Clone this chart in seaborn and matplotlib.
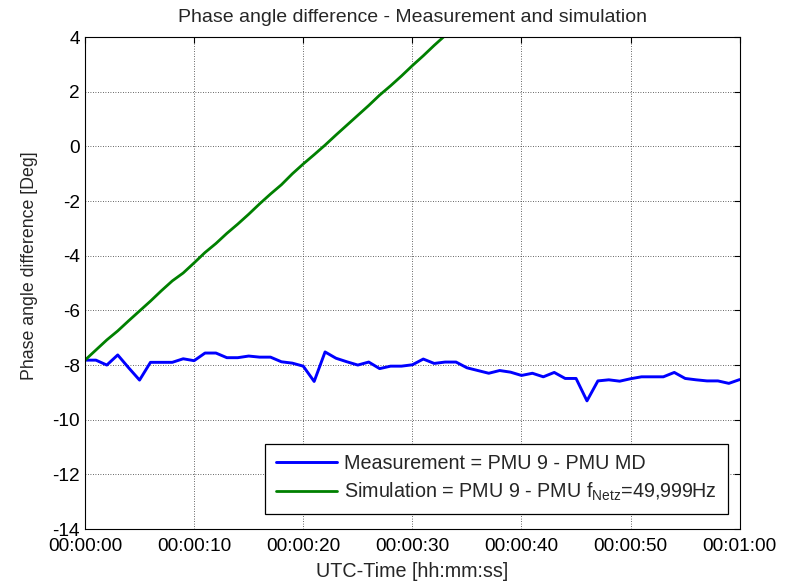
import numpy as np
import pandas as pd
import matplotlib
matplotlib.use("Agg")
import matplotlib.pyplot as plt
import seaborn as sns

# ---- data ----
t_meas = list(range(0, 61))
meas = [-7.82, -7.82, -8.00, -7.63, -8.10, -8.55, -7.90, -7.90, -7.90, -7.77,
        -7.84, -7.56, -7.56, -7.73, -7.73, -7.67, -7.71, -7.71, -7.88, -7.93,
        -8.04, -8.60, -7.52, -7.75, -7.88, -8.00, -7.89, -8.13, -8.04, -8.04,
        -7.99, -7.78, -7.94, -7.89, -7.89, -8.10, -8.20, -8.30, -8.20, -8.26,
        -8.38, -8.30, -8.43, -8.27, -8.49, -8.49, -9.31, -8.58, -8.54, -8.59,
        -8.50, -8.43, -8.43, -8.43, -8.27, -8.49, -8.54, -8.58, -8.58, -8.67,
        -8.53]
t_sim = list(range(0, 35))
sim = [-7.82, -7.45, -7.08, -6.75, -6.38, -6.02, -5.66, -5.28, -4.92, -4.63,
       -4.26, -3.88, -3.55, -3.18, -2.84, -2.48, -2.10, -1.74, -1.40, -1.00,
       -0.64, -0.30, 0.05, 0.42, 0.78, 1.14, 1.50, 1.88, 2.22, 2.58,
       2.96, 3.32, 3.70, 4.06, 4.42]
xtick_vals = [0, 10, 20, 30, 40, 50, 60]
xtick_labels = ["00:00:00", "00:00:10", "00:00:20", "00:00:30",
                "00:00:40", "00:00:50", "00:01:00"]
ytick_vals = [-14, -12, -10, -8, -6, -4, -2, 0, 2, 4]
label_meas = "Measurement = PMU 9 - PMU MD"
label_sim = "Simulation = PMU 9 - PMU f$_{\\mathregular{Netz}}$=49,999Hz"

sns.set_style("white")
plt.rcParams["font.family"] = ["Liberation Sans", "DejaVu Sans"]
plt.rcParams["mathtext.fontset"] = "custom"
plt.rcParams["mathtext.rm"] = "Liberation Sans"
plt.rcParams["axes.unicode_minus"] = False

fig = plt.figure(figsize=(7.98, 5.81), dpi=100)
ax = fig.add_axes([0.1065, 0.0895, 0.8205, 0.8465])

df_m = pd.DataFrame({"t": t_meas, "v": meas})
df_s = pd.DataFrame({"t": t_sim, "v": sim})
sns.lineplot(data=df_m, x="t", y="v", ax=ax, color="#0000ff", lw=2.1, label=label_meas)
sns.lineplot(data=df_s, x="t", y="v", ax=ax, color="#008000", lw=2.0, label=label_sim)

ax.set_xlim(0, 60)
ax.set_ylim(-14, 4)
ax.set_xticks(xtick_vals)
ax.set_xticklabels(xtick_labels)
ax.set_yticks(ytick_vals)
ax.tick_params(direction="in", top=True, right=True, labelsize=13.7, length=4,
               width=0.8, colors="black")
ax.tick_params(axis="x", pad=6.5)
ax.tick_params(axis="y", pad=3.6)
ax.grid(True, color="#333333", linestyle=(0, (1, 2)), linewidth=0.6)
for s in ax.spines.values():
    s.set_color("black")
    s.set_linewidth(0.8)

ax.set_xlabel("UTC-Time [hh:mm:ss]", fontsize=14.2, labelpad=5)
ax.set_ylabel("Phase angle difference [Deg]", fontsize=12.8)
ax.yaxis.set_label_coords(-0.072, 0.535)
ax.set_title("Phase angle difference - Measurement and simulation", fontsize=14, pad=11)

leg = ax.legend(loc="lower right", bbox_to_anchor=(0.9817, 0.0305), fontsize=14.2,
                frameon=True, fancybox=False, edgecolor="black", framealpha=1,
                handlelength=3.1, handletextpad=0.36, borderaxespad=0.0,
                labelspacing=0.38, borderpad=0.55)
leg.get_frame().set_linewidth(0.9)

fig.savefig("out.png", dpi=100)
